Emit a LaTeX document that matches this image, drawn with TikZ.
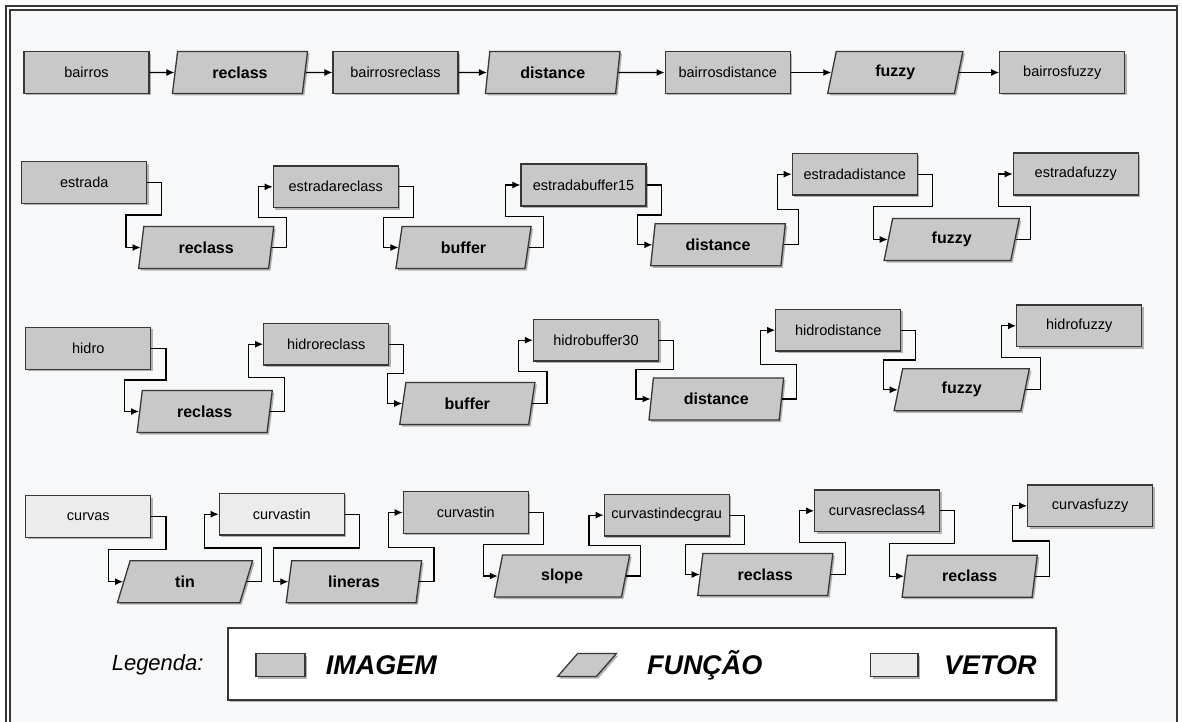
\documentclass[tikz,border=0pt]{standalone}
\usepackage{fontspec}
\setmainfont{Liberation Sans}
\usetikzlibrary{shapes.geometric,arrows.meta,shadows,calc}

\definecolor{imgfill}{RGB}{200,200,200}
\definecolor{vecfill}{RGB}{236,236,236}
\definecolor{canvas}{RGB}{247,248,250}
\definecolor{edge}{RGB}{55,55,55}

\tikzset{
  sombra/.style={drop shadow={shadow xshift=2pt,shadow yshift=-2pt,fill=black!30,opacity=1}},
  imagem/.style={draw=edge, line width=1.3pt, fill=imgfill, minimum width=125pt,
    minimum height=41.7pt, inner sep=0pt, font=\fontsize{14.5}{16}\selectfont, sombra},
  vetor/.style={imagem, fill=vecfill},
  funcao/.style={trapezium, trapezium left angle=79, trapezium right angle=101,
    trapezium stretches=true, draw=edge, line width=1.3pt, fill=imgfill,
    minimum width=135.5pt, minimum height=42pt, inner sep=0pt,
    font=\bfseries\fontsize{16}{18}\selectfont, sombra},
  link/.style={-{Latex[length=8pt,width=7pt]}, line width=1.2pt, black},
}

% elbow connector: out to the right, over to the next row, in from the left
\newcommand{\conecta}[2]{%
  \draw[link] let \p1=(#1.center), \p2=(#2.center), \p3=(#2.west) in
    (#1.east) -- ++(14.5,0) |- ({\x3-14.5pt},{(\y1+\y2)/2}) |- (#2.west);}

\begin{document}
\begin{tikzpicture}[x=1pt,y=-1pt]
\useasboundingbox (0,0) rectangle (1182,722);
\fill[white] (0,0) rectangle (1182,722);
\fill[canvas] (10,10) rectangle (1177,722);
\draw[edge, line width=1.2pt] (6,722) -- (6,6) -- (1177,6) -- (1177,722);
\draw[edge, line width=1.2pt] (10,722) -- (10,10) -- (1177,10);

% bairros
\node[imagem] (bairros) at (86.5,72.5) {bairros};
\node[funcao] (fb1) at (240,72.5) {reclass};
\node[imagem] (bairrosreclass) at (395.5,72.5) {bairrosreclass};
\node[funcao] (fb2) at (552.7,72.5) {distance};
\node[imagem] (bairrosdistance) at (727.7,72.5) {bairrosdistance};
\node[funcao] (fb3) at (895.3,72.5) {fuzzy};
\node[imagem] (bairrosfuzzy) at (1062.3,72.5) {bairrosfuzzy};

\foreach \a/\b in {bairros/fb1, fb1/bairrosreclass, bairrosreclass/fb2,
                   fb2/bairrosdistance, bairrosdistance/fb3, fb3/bairrosfuzzy}
  \draw[link] (\a.east) -- (\b.west);

% estrada
\node[imagem] (estrada) at (84.2,182.5) {estrada};
\node[funcao] (fe1) at (206.2,247.5) {reclass};
\node[imagem] (estradareclass) at (335.8,186.8) {estradareclass};
\node[funcao] (fe2) at (463.5,247.5) {buffer};
\node[imagem] (estradabuffer) at (583.5,185) {estradabuffer15};
\node[funcao] (fe3) at (718,244.8) {distance};
\node[imagem] (estradadistance) at (854.8,174.2) {estradadistance};
\node[funcao] (fe4) at (951.7,239.5) {fuzzy};
\node[imagem] (estradafuzzy) at (1075.8,174) {estradafuzzy};

% hidro
\node[imagem] (hidro) at (88.3,348.3) {hidro};
\node[funcao] (fh1) at (204.7,411.5) {reclass};
\node[imagem] (hidroreclass) at (326.2,344.2) {hidroreclass};
\node[funcao] (fh2) at (467.3,403.5) {buffer};
\node[imagem] (hidrobuffer) at (596,340.2) {hidrobuffer30};
\node[funcao] (fh3) at (716.3,399) {distance};
\node[imagem] (hidrodistance) at (838.2,330.2) {hidrodistance};
\node[funcao] (fh4) at (961.7,389.8) {fuzzy};
\node[imagem] (hidrofuzzy) at (1079.2,325.8) {hidrofuzzy};

% curvas
\node[vetor] (curvas) at (88.3,516.5) {curvas};
\node[funcao] (fc1) at (185,581.7) {tin};
\node[vetor] (curvastinv) at (281.8,514.2) {curvastin};
\node[funcao] (fc2) at (353.9,581.7) {lineras};
\node[imagem] (curvastin) at (465.8,512.5) {curvastin};
\node[funcao] (fc3) at (562,576) {slope};
\node[imagem] (curvasdecl) at (666.7,515.2) {curvastindecgrau};
\node[funcao] (fc4) at (765.3,574.5) {reclass};
\node[imagem] (curvasreclass) at (877.2,510.8) {curvasreclass4};
\node[funcao] (fc5) at (969.7,576.2) {reclass};
\node[imagem] (curvasfuzzy) at (1090.2,505.8) {curvasfuzzy};

\foreach \a/\b in {estrada/fe1, fe1/estradareclass, estradareclass/fe2, fe2/estradabuffer,
                   estradabuffer/fe3, fe3/estradadistance, estradadistance/fe4, fe4/estradafuzzy,
                   hidro/fh1, fh1/hidroreclass, hidroreclass/fh2, fh2/hidrobuffer,
                   hidrobuffer/fh3, fh3/hidrodistance, hidrodistance/fh4, fh4/hidrofuzzy,
                   curvas/fc1, fc1/curvastinv, curvastinv/fc2, fc2/curvastin,
                   curvastin/fc3, fc3/curvasdecl, curvasdecl/fc4, fc4/curvasreclass,
                   curvasreclass/fc5, fc5/curvasfuzzy}
  {\conecta{\a}{\b}}

% legenda
\node[draw=edge, line width=1.3pt, fill=white, minimum width=828pt, minimum height=72pt,
      sombra] (legenda) at (642,664) {};
\node[anchor=west, inner sep=0pt, font=\itshape\fontsize{22}{24}\selectfont] (legtit) at (111.6,665) {Legenda:};
\node[imagem, minimum width=49pt, minimum height=23pt] (legimg) at (280.5,665) {};
\node[anchor=west, inner sep=0pt, font=\bfseries\itshape\fontsize{27}{30}\selectfont] (legimgtxt) at (325.6,665) {IMAGEM};
\node[funcao, inner sep=2pt, minimum width=58.8pt, minimum height=23pt] (legfun) at (587,665) {\strut};
\node[anchor=west, inner sep=0pt, font=\bfseries\itshape\fontsize{27}{30}\selectfont] (legfuntxt) at (646.8,665) {FUNÇÃO};
\node[vetor, minimum width=47.4pt, minimum height=23pt] (legvet) at (894.3,665) {};
\node[anchor=west, inner sep=0pt, font=\bfseries\itshape\fontsize{27}{30}\selectfont] (legvettxt) at (943.8,665) {VETOR};
\end{tikzpicture}
\end{document}
